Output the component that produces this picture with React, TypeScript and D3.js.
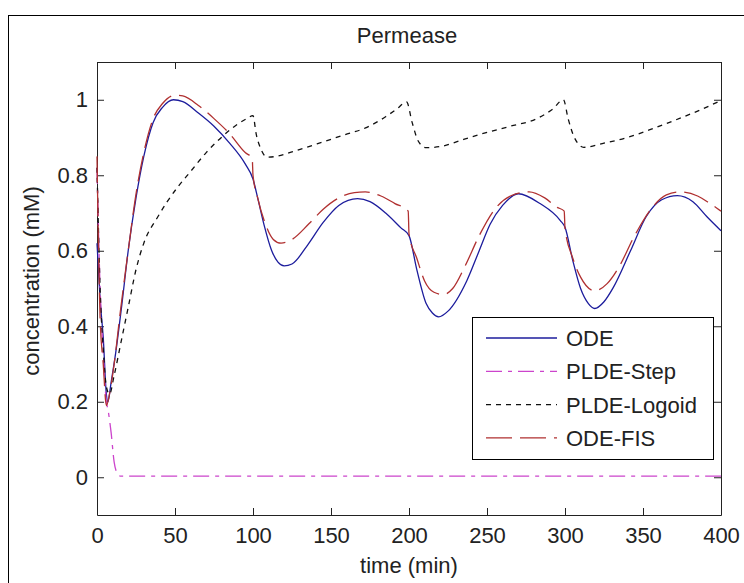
import { useEffect, useRef } from 'react';
import * as d3 from 'd3';

// time (min), concentration (mM)
const odeT = [0, 2, 4, 6, 7, 9, 12, 16, 20, 25, 30, 36, 42, 49, 55, 65, 75, 85, 95, 100, 103, 107, 112, 116, 120, 125, 135, 145, 155, 167, 175, 185, 195, 200, 205, 211, 215, 219, 225, 237, 245, 252, 260, 270, 284, 297, 300, 305, 310, 315, 319, 325, 331, 342, 352, 362, 372, 382, 391, 400];
const odeV = [0.62, 0.47, 0.37, 0.22, 0.2, 0.25, 0.33, 0.46, 0.6, 0.74, 0.85, 0.94, 0.98, 1.0, 0.995, 0.965, 0.93, 0.885, 0.83, 0.79, 0.74, 0.67, 0.6, 0.57, 0.56, 0.565, 0.615, 0.675, 0.72, 0.738, 0.73, 0.7, 0.66, 0.64, 0.55, 0.46, 0.435, 0.425, 0.44, 0.52, 0.6, 0.67, 0.72, 0.751, 0.725, 0.68, 0.662, 0.574, 0.5, 0.46, 0.447, 0.465, 0.503, 0.6, 0.69, 0.735, 0.746, 0.73, 0.69, 0.653];

const stepT = [0, 2, 4, 6, 7, 9, 11, 13, 15, 400];
const stepV = [0.82, 0.5, 0.33, 0.2, 0.18, 0.12, 0.04, 0.01, 0.003, 0.003];

const logoidT = [0, 2, 4, 6, 8, 11, 16, 20, 25, 30, 39, 45, 52, 60, 70, 81, 90, 96, 100, 102, 105, 109, 115, 125, 141, 157, 173, 185, 192, 198.5, 202, 206, 211, 220, 235, 247, 265, 282, 292, 299, 302, 306, 312, 325, 340, 354, 370, 385, 400];
const logoidV = [0.82, 0.5, 0.34, 0.24, 0.22, 0.27, 0.37, 0.45, 0.55, 0.62, 0.69, 0.73, 0.77, 0.81, 0.86, 0.905, 0.935, 0.95, 0.958, 0.91, 0.87, 0.848, 0.85, 0.862, 0.883, 0.905, 0.927, 0.955, 0.975, 0.994, 0.94, 0.89, 0.873, 0.876, 0.895, 0.91, 0.93, 0.95, 0.975, 1.0, 0.95, 0.9, 0.874, 0.885, 0.9, 0.92, 0.945, 0.97, 0.998];

const fisT = [0, 1, 2, 4, 6, 8, 11, 15, 20, 25, 30, 36, 42, 50, 55, 65, 75, 85, 95, 99.5, 100, 103, 108, 113, 118, 125, 136, 145, 155, 165, 172, 182, 191, 199.5, 200, 205, 210, 216, 222, 228, 236, 245, 255, 265, 277, 287, 295, 299.5, 300, 305, 310, 319, 327, 335, 344, 356, 365, 374, 385, 393, 400];
const fisV = [0.85, 0.6, 0.42, 0.3, 0.19, 0.22, 0.3, 0.44, 0.6, 0.75, 0.86, 0.95, 0.99, 1.012, 1.01, 0.985, 0.95, 0.91, 0.86, 0.845, 0.8, 0.74, 0.67, 0.63, 0.62, 0.63, 0.672, 0.71, 0.74, 0.754, 0.756, 0.745, 0.725, 0.705, 0.645, 0.58, 0.52, 0.49, 0.484, 0.5, 0.56, 0.64, 0.71, 0.745, 0.756, 0.74, 0.715, 0.705, 0.66, 0.58, 0.53, 0.494, 0.513, 0.56, 0.635, 0.715, 0.748, 0.756, 0.745, 0.725, 0.705];

const seriesNames = ['ODE', 'PLDE-Step', 'PLDE-Logoid', 'ODE-FIS'];
const xTicks = [0, 50, 100, 150, 200, 250, 300, 350, 400];
const yTicks = [0, 0.2, 0.4, 0.6, 0.8, 1];

const FONT = 'Liberation Sans, Arial, Helvetica, sans-serif';

function App() {
  const ref = useRef<SVGSVGElement>(null);

  useEffect(() => {
    drawChart();
    // eslint-disable-next-line
  }, []);

  function drawChart() {
    const config = { left: 97, right: 721, top: 62, bottom: 515 };
    const svg = d3.select(ref.current);
    svg.selectAll('*').remove();

    const xScale = d3.scaleLinear().domain([0, 400]).range([config.left, config.right]);
    const yScale = d3.scaleLinear().domain([-0.1, 1.1]).range([config.bottom, config.top]);

    // outer figure border (only top and left show in the crop)
    svg.append('rect')
      .attr('x', 8.5).attr('y', 15.5)
      .attr('width', 900).attr('height', 900)
      .attr('fill', 'none').attr('stroke', '#000');

    svg.append('rect')
      .attr('x', config.left).attr('y', config.top)
      .attr('width', config.right - config.left)
      .attr('height', config.bottom - config.top)
      .attr('fill', '#fff');

    const styleAxis = (g: any) => {
      g.attr('font-family', FONT).attr('font-size', 22)
      g.selectAll('path').attr('stroke', '#222')
      g.selectAll('line').attr('stroke', '#222')
      g.selectAll('text').attr('fill', '#222')
    };

    svg.append('g')
      .attr('transform', `translate(0,${config.bottom})`)
      .call(d3.axisBottom(xScale).tickValues(xTicks).tickSizeInner(-7).tickSizeOuter(0).tickPadding(12).tickFormat(d => String(d)))
      .call(styleAxis);
    svg.append('g')
      .attr('transform', `translate(0,${config.top})`)
      .call(d3.axisTop(xScale).tickValues(xTicks).tickSizeInner(-7).tickSizeOuter(0).tickFormat(() => ''))
      .call(styleAxis);
    svg.append('g')
      .attr('transform', `translate(${config.left},0)`)
      .call(d3.axisLeft(yScale).tickValues(yTicks).tickSizeInner(-7).tickSizeOuter(0).tickPadding(9).tickFormat(d => String(+d)))
      .call(styleAxis);
    svg.append('g')
      .attr('transform', `translate(${config.right},0)`)
      .call(d3.axisRight(yScale).tickValues(yTicks).tickSizeInner(-7).tickSizeOuter(0).tickFormat(() => ''))
      .call(styleAxis);

    const series = [
      { t: odeT, v: odeV, color: '#1c1c9c', dash: null },
      { t: stepT, v: stepV, color: '#cc44cc', dash: '16,6,4,6' },
      { t: logoidT, v: logoidV, color: '#111', dash: '5,5' },
      { t: fisT, v: fisV, color: '#b03030', dash: '26,8' },
    ];

    const line = d3.line<[number, number]>()
      .x(d => xScale(d[0]))
      .y(d => yScale(d[1]))
      .curve(d3.curveMonotoneX);

    const plot = svg.append('g');
    series.forEach(s => {
      const pts = s.t.map((t, i) => [t, s.v[i]] as [number, number]);
      plot.append('path')
        .datum(pts)
        .attr('d', line)
        .attr('fill', 'none')
        .attr('stroke', s.color)
        .attr('stroke-width', 1.3)
        .attr('stroke-dasharray', s.dash);
    });

    // legend
    const lg = svg.append('g');
    lg.append('rect')
      .attr('x', 472.5).attr('y', 317.5)
      .attr('width', 241).attr('height', 142)
      .attr('fill', '#fff').attr('stroke', '#000');
    series.forEach((s, i) => {
      const y = 338 + i * 33.3;
      lg.append('line')
        .attr('x1', 486).attr('x2', 557).attr('y1', y).attr('y2', y)
        .attr('stroke', s.color).attr('stroke-width', 1.3)
        .attr('stroke-dasharray', s.dash);
      lg.append('text')
        .attr('x', 566).attr('y', y).attr('dy', '0.36em')
        .attr('font-family', FONT).attr('font-size', 22).attr('fill', '#222')
        .text(seriesNames[i]);
    });

    svg.append('text')
      .attr('x', 407).attr('y', 43)
      .attr('text-anchor', 'middle')
      .attr('font-family', FONT).attr('font-size', 22).attr('fill', '#222')
      .text('Permease');
    svg.append('text')
      .attr('x', 409).attr('y', 573)
      .attr('text-anchor', 'middle')
      .attr('font-family', FONT).attr('font-size', 22).attr('fill', '#222')
      .text('time (min)');
    svg.append('text')
      .attr('transform', 'translate(39,281) rotate(-90)')
      .attr('text-anchor', 'middle')
      .attr('font-family', FONT).attr('font-size', 22).attr('fill', '#222')
      .text('concentration (mM)');
  }

  return (
    <svg ref={ref} width={744} height={583}
      style={{ position: 'absolute', left: 0, top: 0, background: '#fff' }} />
  );
}

export default App;
